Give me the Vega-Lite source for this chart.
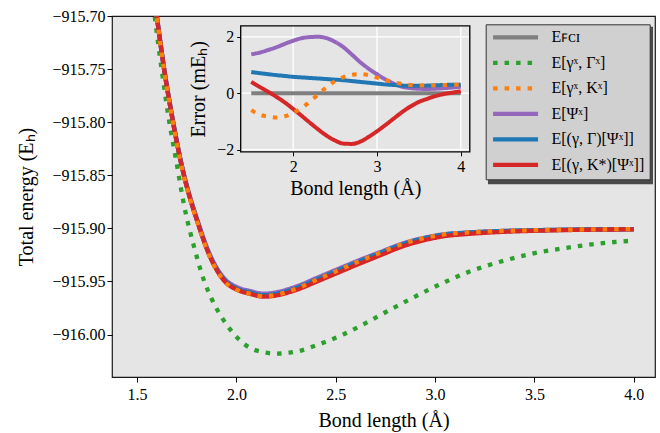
{
  "$schema": "https://vega.github.io/schema/vega-lite/v6.json",
  "width": 543,
  "height": 361,
  "autosize": {"type": "none"},
  "padding": {"left": 112, "top": 16, "right": 5, "bottom": 56},
  "background": "white",
  "config": {
    "view": {"fill": "#e5e5e5", "stroke": "#1a1a1a", "strokeWidth": 1.2},
    "font": "Liberation Serif",
    "style": {"guide-label": {"font": "Liberation Serif"}, "guide-title": {"font": "Liberation Serif"}},
    "axis": {"labelFont": "Liberation Serif", "titleFont": "Liberation Serif", "labelFontSize": 16, "titleFontSize": 20, "titleFontWeight": "normal", "labelColor": "black", "titleColor": "black", "tickColor": "black", "tickSize": 5, "domain": false, "gridColor": "white", "gridWidth": 1.3, "gridOpacity": 1},
    "legend": {"labelFont": "Liberation Serif"}
  },
  "datasets": {
    "main": [
      {"s":"FCI","x":1.5,"e":-915.54},{"s":"FCI","x":1.55,"e":-915.625},{"s":"FCI","x":1.599,"e":-915.7},{"s":"FCI","x":1.636,"e":-915.75},{"s":"FCI","x":1.681,"e":-915.8},{"s":"FCI","x":1.718,"e":-915.8355},{"s":"FCI","x":1.815,"e":-915.9},{"s":"FCI","x":1.855,"e":-915.921},{"s":"FCI","x":1.944,"e":-915.95},{"s":"FCI","x":2.0,"e":-915.957},{"s":"FCI","x":2.07,"e":-915.961},{"s":"FCI","x":2.137,"e":-915.9635},{"s":"FCI","x":2.305,"e":-915.9565},{"s":"FCI","x":2.4,"e":-915.949},{"s":"FCI","x":2.5,"e":-915.941},{"s":"FCI","x":2.6,"e":-915.933},{"s":"FCI","x":2.724,"e":-915.9236},{"s":"FCI","x":2.85,"e":-915.9145},{"s":"FCI","x":2.95,"e":-915.9095},{"s":"FCI","x":3.05,"e":-915.906},{"s":"FCI","x":3.15,"e":-915.9045},{"s":"FCI","x":3.3,"e":-915.903},{"s":"FCI","x":3.5,"e":-915.902},{"s":"FCI","x":4.0,"e":-915.901},
      {"s":"GG","x":1.5,"e":-915.55},{"s":"GG","x":1.55,"e":-915.632},{"s":"GG","x":1.589,"e":-915.7},{"s":"GG","x":1.625,"e":-915.752},{"s":"GG","x":1.66,"e":-915.797},{"s":"GG","x":1.695,"e":-915.834},{"s":"GG","x":1.743,"e":-915.884},{"s":"GG","x":1.785,"e":-915.916},{"s":"GG","x":1.835,"e":-915.948},{"s":"GG","x":1.877,"e":-915.967},{"s":"GG","x":1.933,"e":-915.9857},{"s":"GG","x":2.0,"e":-916.0021},{"s":"GG","x":2.095,"e":-916.0147},{"s":"GG","x":2.204,"e":-916.018},{"s":"GG","x":2.313,"e":-916.0156},{"s":"GG","x":2.419,"e":-916.009},{"s":"GG","x":2.523,"e":-916.0012},{"s":"GG","x":2.623,"e":-915.992},{"s":"GG","x":2.724,"e":-915.9817},{"s":"GG","x":2.875,"e":-915.9666},{"s":"GG","x":3.017,"e":-915.9534},{"s":"GG","x":3.177,"e":-915.9405},{"s":"GG","x":3.328,"e":-915.9314},{"s":"GG","x":3.495,"e":-915.9236},{"s":"GG","x":3.663,"e":-915.9183},{"s":"GG","x":3.83,"e":-915.9142},{"s":"GG","x":4.0,"e":-915.9115},
      {"s":"PSI","x":1.5,"e":-915.53862},{"s":"PSI","x":1.55,"e":-915.62359},{"s":"PSI","x":1.599,"e":-915.69856},{"s":"PSI","x":1.636,"e":-915.74853},{"s":"PSI","x":1.681,"e":-915.79849},{"s":"PSI","x":1.718,"e":-915.83395},{"s":"PSI","x":1.815,"e":-915.89836},{"s":"PSI","x":1.855,"e":-915.91931},{"s":"PSI","x":1.944,"e":-915.94819},{"s":"PSI","x":2.0,"e":-915.95514},{"s":"PSI","x":2.07,"e":-915.95907},{"s":"PSI","x":2.137,"e":-915.96153},{"s":"PSI","x":2.305,"e":-915.9545},{"s":"PSI","x":2.4,"e":-915.94706},{"s":"PSI","x":2.5,"e":-915.93918},{"s":"PSI","x":2.6,"e":-915.93138},{"s":"PSI","x":2.724,"e":-915.9223},{"s":"PSI","x":2.85,"e":-915.91352},{"s":"PSI","x":2.95,"e":-915.90873},{"s":"PSI","x":3.05,"e":-915.90542},{"s":"PSI","x":3.15,"e":-915.90409},{"s":"PSI","x":3.3,"e":-915.90277},{"s":"PSI","x":3.5,"e":-915.901845},{"s":"PSI","x":4.0,"e":-915.90077},
      {"s":"GGP","x":1.5,"e":-915.53925},{"s":"GGP","x":1.55,"e":-915.62427},{"s":"GGP","x":1.599,"e":-915.69929},{"s":"GGP","x":1.636,"e":-915.749305},{"s":"GGP","x":1.681,"e":-915.799325},{"s":"GGP","x":1.718,"e":-915.83484},{"s":"GGP","x":1.815,"e":-915.899365},{"s":"GGP","x":1.855,"e":-915.92038},{"s":"GGP","x":1.944,"e":-915.94941},{"s":"GGP","x":2.0,"e":-915.95642},{"s":"GGP","x":2.07,"e":-915.960435},{"s":"GGP","x":2.137,"e":-915.962945},{"s":"GGP","x":2.305,"e":-915.95598},{"s":"GGP","x":2.4,"e":-915.9485},{"s":"GGP","x":2.5,"e":-915.94052},{"s":"GGP","x":2.6,"e":-915.93254},{"s":"GGP","x":2.724,"e":-915.923175},{"s":"GGP","x":2.85,"e":-915.914115},{"s":"GGP","x":2.95,"e":-915.90915},{"s":"GGP","x":3.05,"e":-915.905675},{"s":"GGP","x":3.15,"e":-915.9042},{"s":"GGP","x":3.3,"e":-915.90273},{"s":"GGP","x":3.5,"e":-915.90174},{"s":"GGP","x":4.0,"e":-915.9007},
      {"s":"GKP","x":1.5,"e":-915.53962},{"s":"GKP","x":1.55,"e":-915.6247},{"s":"GKP","x":1.599,"e":-915.69978},{"s":"GKP","x":1.636,"e":-915.74983},{"s":"GKP","x":1.681,"e":-915.79992},{"s":"GKP","x":1.718,"e":-915.83548},{"s":"GKP","x":1.815,"e":-915.90016},{"s":"GKP","x":1.855,"e":-915.92124},{"s":"GKP","x":1.944,"e":-915.95043},{"s":"GKP","x":2.0,"e":-915.95756},{"s":"GKP","x":2.07,"e":-915.96173},{"s":"GKP","x":2.137,"e":-915.96439},{"s":"GKP","x":2.305,"e":-915.9578},{"s":"GKP","x":2.4,"e":-915.95051},{"s":"GKP","x":2.5,"e":-915.94268},{"s":"GKP","x":2.6,"e":-915.93479},{"s":"GKP","x":2.724,"e":-915.92539},{"s":"GKP","x":2.85,"e":-915.91614},{"s":"GKP","x":2.95,"e":-915.91095},{"s":"GKP","x":3.05,"e":-915.90724},{"s":"GKP","x":3.15,"e":-915.90552},{"s":"GKP","x":3.3,"e":-915.90367},{"s":"GKP","x":3.5,"e":-915.90231},{"s":"GKP","x":4.0,"e":-915.90093},
      {"s":"GK","x":1.5,"e":-915.5406},{"s":"GK","x":1.55,"e":-915.62568},{"s":"GK","x":1.599,"e":-915.70076},{"s":"GK","x":1.636,"e":-915.75079},{"s":"GK","x":1.681,"e":-915.80082},{"s":"GK","x":1.718,"e":-915.83634},{"s":"GK","x":1.815,"e":-915.900855},{"s":"GK","x":1.855,"e":-915.92184},{"s":"GK","x":1.944,"e":-915.95077},{"s":"GK","x":2.0,"e":-915.9577},{"s":"GK","x":2.07,"e":-915.96158},{"s":"GK","x":2.137,"e":-915.96394},{"s":"GK","x":2.305,"e":-915.95653},{"s":"GK","x":2.4,"e":-915.94878},{"s":"GK","x":2.5,"e":-915.94057},{"s":"GK","x":2.6,"e":-915.93243},{"s":"GK","x":2.724,"e":-915.92294},{"s":"GK","x":2.85,"e":-915.91383},{"s":"GK","x":2.95,"e":-915.9089},{"s":"GK","x":3.05,"e":-915.9055},{"s":"GK","x":3.15,"e":-915.90408},{"s":"GK","x":3.3,"e":-915.90267},{"s":"GK","x":3.5,"e":-915.90173},{"s":"GK","x":4.0,"e":-915.9007}
    ],
    "inset": [
      {"s":"FCI","x":1.5,"m":0},{"s":"FCI","x":4.0,"m":0},
      {"s":"PSI","x":1.5,"m":1.38},{"s":"PSI","x":1.6,"m":1.44},{"s":"PSI","x":1.7,"m":1.53},{"s":"PSI","x":1.8,"m":1.63},{"s":"PSI","x":1.9,"m":1.75},{"s":"PSI","x":2.0,"m":1.86},{"s":"PSI","x":2.1,"m":1.95},{"s":"PSI","x":2.2,"m":1.99},{"s":"PSI","x":2.3,"m":2.0},{"s":"PSI","x":2.4,"m":1.95},{"s":"PSI","x":2.5,"m":1.82},{"s":"PSI","x":2.6,"m":1.63},{"s":"PSI","x":2.7,"m":1.37},{"s":"PSI","x":2.8,"m":1.1},{"s":"PSI","x":2.9,"m":0.87},{"s":"PSI","x":3.0,"m":0.67},{"s":"PSI","x":3.1,"m":0.49},{"s":"PSI","x":3.2,"m":0.34},{"s":"PSI","x":3.3,"m":0.23},{"s":"PSI","x":3.4,"m":0.18},{"s":"PSI","x":3.5,"m":0.155},{"s":"PSI","x":3.6,"m":0.15},{"s":"PSI","x":3.7,"m":0.16},{"s":"PSI","x":3.8,"m":0.18},{"s":"PSI","x":3.9,"m":0.2},{"s":"PSI","x":4.0,"m":0.23},
      {"s":"GGP","x":1.5,"m":0.75},{"s":"GGP","x":1.6,"m":0.71},{"s":"GGP","x":1.7,"m":0.675},{"s":"GGP","x":1.8,"m":0.64},{"s":"GGP","x":1.9,"m":0.61},{"s":"GGP","x":2.0,"m":0.58},{"s":"GGP","x":2.1,"m":0.56},{"s":"GGP","x":2.2,"m":0.54},{"s":"GGP","x":2.3,"m":0.52},{"s":"GGP","x":2.4,"m":0.5},{"s":"GGP","x":2.5,"m":0.48},{"s":"GGP","x":2.6,"m":0.46},{"s":"GGP","x":2.7,"m":0.43},{"s":"GGP","x":2.8,"m":0.4},{"s":"GGP","x":2.9,"m":0.37},{"s":"GGP","x":3.0,"m":0.34},{"s":"GGP","x":3.1,"m":0.31},{"s":"GGP","x":3.2,"m":0.29},{"s":"GGP","x":3.3,"m":0.27},{"s":"GGP","x":3.4,"m":0.26},{"s":"GGP","x":3.5,"m":0.26},{"s":"GGP","x":3.6,"m":0.27},{"s":"GGP","x":3.7,"m":0.28},{"s":"GGP","x":3.8,"m":0.29},{"s":"GGP","x":3.9,"m":0.3},{"s":"GGP","x":4.0,"m":0.3},
      {"s":"GKP","x":1.5,"m":0.4},{"s":"GKP","x":1.6,"m":0.22},{"s":"GKP","x":1.7,"m":0.05},{"s":"GKP","x":1.8,"m":-0.13},{"s":"GKP","x":1.9,"m":-0.33},{"s":"GKP","x":2.0,"m":-0.56},{"s":"GKP","x":2.1,"m":-0.8},{"s":"GKP","x":2.2,"m":-1.05},{"s":"GKP","x":2.3,"m":-1.29},{"s":"GKP","x":2.4,"m":-1.51},{"s":"GKP","x":2.5,"m":-1.68},{"s":"GKP","x":2.6,"m":-1.79},{"s":"GKP","x":2.7,"m":-1.8},{"s":"GKP","x":2.8,"m":-1.72},{"s":"GKP","x":2.9,"m":-1.55},{"s":"GKP","x":3.0,"m":-1.35},{"s":"GKP","x":3.1,"m":-1.13},{"s":"GKP","x":3.2,"m":-0.9},{"s":"GKP","x":3.3,"m":-0.67},{"s":"GKP","x":3.4,"m":-0.47},{"s":"GKP","x":3.5,"m":-0.31},{"s":"GKP","x":3.6,"m":-0.2},{"s":"GKP","x":3.7,"m":-0.1},{"s":"GKP","x":3.8,"m":-0.03},{"s":"GKP","x":3.9,"m":0.02},{"s":"GKP","x":4.0,"m":0.07},
      {"s":"GK","x":1.5,"m":-0.6},{"s":"GK","x":1.6,"m":-0.76},{"s":"GK","x":1.7,"m":-0.83},{"s":"GK","x":1.8,"m":-0.86},{"s":"GK","x":1.9,"m":-0.82},{"s":"GK","x":2.0,"m":-0.7},{"s":"GK","x":2.1,"m":-0.53},{"s":"GK","x":2.2,"m":-0.3},{"s":"GK","x":2.3,"m":-0.04},{"s":"GK","x":2.4,"m":0.22},{"s":"GK","x":2.5,"m":0.43},{"s":"GK","x":2.6,"m":0.57},{"s":"GK","x":2.7,"m":0.65},{"s":"GK","x":2.8,"m":0.68},{"s":"GK","x":2.9,"m":0.64},{"s":"GK","x":3.0,"m":0.55},{"s":"GK","x":3.1,"m":0.46},{"s":"GK","x":3.2,"m":0.39},{"s":"GK","x":3.3,"m":0.33},{"s":"GK","x":3.4,"m":0.29},{"s":"GK","x":3.5,"m":0.27},{"s":"GK","x":3.6,"m":0.27},{"s":"GK","x":3.7,"m":0.28},{"s":"GK","x":3.8,"m":0.29},{"s":"GK","x":3.9,"m":0.3},{"s":"GK","x":4.0,"m":0.3}
    ]
  },
  "layer": [
    {
      "layer": [
        {
          "data": {"values": [{}]},
          "mark": {"type": "rect", "fill": "#4a4a4a"},
          "encoding": {
            "x": {"datum": 3.2664, "type": "quantitative",
              "axis": {"orient": "bottom", "values": [1.5, 2, 2.5, 3, 3.5, 4], "format": ".1f", "title": "Bond length (Å)", "labelFont": "Liberation Serif", "titleFont": "Liberation Serif", "labelPadding": 4, "titlePadding": 8}},
            "x2": {"datum": 4.0969},
            "y": {"datum": -915.7102, "type": "quantitative",
              "axis": {"orient": "left", "values": [-916, -915.95, -915.9, -915.85, -915.8, -915.75, -915.7], "format": ".2f", "title": "Total energy (Eₕ)", "labelFont": "Liberation Serif", "titleFont": "Liberation Serif", "titlePadding": 15}},
            "y2": {"datum": -915.8584}
          }
        },
        {
          "data": {"name": "main"},
          "mark": {"type": "line", "strokeWidth": 4.3, "interpolate": "monotone", "clip": true, "strokeCap": "butt"},
          "encoding": {
            "x": {"field": "x", "type": "quantitative",
              "scale": {"domain": [1.374, 4.107], "nice": false, "zero": false},
              "axis": {"orient": "bottom", "values": [1.5, 2, 2.5, 3, 3.5, 4], "format": ".1f", "title": "Bond length (Å)", "labelFont": "Liberation Serif", "titleFont": "Liberation Serif", "labelPadding": 4, "titlePadding": 8}},
            "y": {"field": "e", "type": "quantitative",
              "scale": {"domain": [-916.04, -915.7], "nice": false, "zero": false},
              "axis": {"orient": "left", "values": [-916, -915.95, -915.9, -915.85, -915.8, -915.75, -915.7], "format": ".2f", "title": "Total energy (Eₕ)", "labelFont": "Liberation Serif", "titleFont": "Liberation Serif", "titlePadding": 15}},
            "color": {"field": "s", "type": "nominal",
              "scale": {"domain": ["FCI", "GG", "GK", "PSI", "GGP", "GKP"], "range": ["#7f7f7f", "#2ca02c", "#ff7f0e", "#9467bd", "#1f77b4", "#d62728"]},
              "legend": {"title": null, "orient": "none", "legendX": 373.7, "legendY": 8.3, "symbolType": "M-1,0H7", "symbolSize": 126.5, "symbolStrokeWidth": 4.3, "labelFont": "Liberation Serif", "labelFontSize": 16, "labelColor": "black", "labelOffset": 44.75, "padding": 5, "rowPadding": 7.5, "fillColor": "#d0d0d0", "strokeColor": "#333333",
                "labelExpr": "datum.label == 'FCI' ? 'Eꜰᴄɪ' : datum.label == 'GG' ? 'E[γˣ, Γˣ]' : datum.label == 'GK' ? 'E[γˣ, Kˣ]' : datum.label == 'PSI' ? 'E[Ψˣ]' : datum.label == 'GGP' ? 'E[(γ, Γ)[Ψˣ]]' : 'E[(γ, K*)[Ψˣ]]'"}},
            "strokeDash": {"field": "s", "type": "nominal",
              "scale": {"domain": ["FCI", "GG", "GK", "PSI", "GGP", "GKP"], "range": [[1, 0], [4.5, 7], [4.5, 7], [1, 0], [1, 0], [1, 0]]}}
          }
        }
      ]
    },
    {
      "layer": [
        {
          "data": {"values": [{}]},
          "mark": {"type": "rect", "fill": "#e5e5e5"},
          "encoding": {
            "x": {"datum": 1.374, "type": "quantitative",
              "axis": {"orient": "bottom", "offset": -225.2, "values": [2, 3, 4], "format": "d", "title": "Bond length (Å)", "labelFont": "Liberation Serif", "titleFont": "Liberation Serif", "grid": false, "tickSize": 4, "labelPadding": 3, "titlePadding": 4}},
            "x2": {"datum": 4.107},
            "y": {"datum": -2.08, "type": "quantitative",
              "axis": {"orient": "left", "offset": -128.7, "values": [-2, 0, 2], "format": "d", "title": "Error (mEₕ)", "labelFont": "Liberation Serif", "titleFont": "Liberation Serif", "grid": false, "tickSize": 4, "labelPadding": 3, "titlePadding": 8}},
            "y2": {"datum": 2.39}
          }
        },
        {
          "data": {"values": [{"g": 2}, {"g": 3}, {"g": 4}]},
          "mark": {"type": "rule", "color": "white", "strokeWidth": 1.3},
          "encoding": {
            "x": {"field": "g", "type": "quantitative",
              "axis": {"orient": "bottom", "offset": -225.2, "values": [2, 3, 4], "format": "d", "title": "Bond length (Å)", "labelFont": "Liberation Serif", "titleFont": "Liberation Serif", "grid": false, "tickSize": 4, "labelPadding": 3, "titlePadding": 4}},
            "y": {"datum": -2.08, "type": "quantitative",
              "axis": {"orient": "left", "offset": -128.7, "values": [-2, 0, 2], "format": "d", "title": "Error (mEₕ)", "labelFont": "Liberation Serif", "titleFont": "Liberation Serif", "grid": false, "tickSize": 4, "labelPadding": 3, "titlePadding": 8}},
            "y2": {"datum": 2.39}
          }
        },
        {
          "data": {"values": [{"g": -2}, {"g": 0}, {"g": 2}]},
          "mark": {"type": "rule", "color": "white", "strokeWidth": 1.3},
          "encoding": {
            "y": {"field": "g", "type": "quantitative",
              "axis": {"orient": "left", "offset": -128.7, "values": [-2, 0, 2], "format": "d", "title": "Error (mEₕ)", "labelFont": "Liberation Serif", "titleFont": "Liberation Serif", "grid": false, "tickSize": 4, "labelPadding": 3, "titlePadding": 8}},
            "x": {"datum": 1.374, "type": "quantitative",
              "axis": {"orient": "bottom", "offset": -225.2, "values": [2, 3, 4], "format": "d", "title": "Bond length (Å)", "labelFont": "Liberation Serif", "titleFont": "Liberation Serif", "grid": false, "tickSize": 4, "labelPadding": 3, "titlePadding": 4}},
            "x2": {"datum": 4.107}
          }
        },
        {
          "data": {"name": "inset"},
          "mark": {"type": "line", "strokeWidth": 4, "interpolate": "monotone", "strokeCap": "butt"},
          "encoding": {
            "x": {"field": "x", "type": "quantitative",
              "scale": {"domain": [1.374, 4.107], "range": [128.7, 357.8], "nice": false, "zero": false},
              "axis": {"orient": "bottom", "offset": -225.2, "values": [2, 3, 4], "format": "d", "title": "Bond length (Å)", "labelFont": "Liberation Serif", "titleFont": "Liberation Serif", "grid": false, "tickSize": 4, "labelPadding": 3, "titlePadding": 4}},
            "y": {"field": "m", "type": "quantitative",
              "scale": {"domain": [-2.08, 2.39], "range": [135.8, 9.8], "nice": false, "zero": false},
              "axis": {"orient": "left", "offset": -128.7, "values": [-2, 0, 2], "format": "d", "title": "Error (mEₕ)", "labelFont": "Liberation Serif", "titleFont": "Liberation Serif", "grid": false, "tickSize": 4, "labelPadding": 3, "titlePadding": 8}},
            "color": {"field": "s", "type": "nominal"},
            "strokeDash": {"field": "s", "type": "nominal"}
          }
        },
        {
          "data": {"values": [{}]},
          "mark": {"type": "rect", "filled": false, "stroke": "black", "strokeWidth": 1.3},
          "encoding": {
            "x": {"datum": 1.374, "type": "quantitative",
              "axis": {"orient": "bottom", "offset": -225.2, "values": [2, 3, 4], "format": "d", "title": "Bond length (Å)", "labelFont": "Liberation Serif", "titleFont": "Liberation Serif", "grid": false, "tickSize": 4, "labelPadding": 3, "titlePadding": 4}},
            "x2": {"datum": 4.107},
            "y": {"datum": -2.08, "type": "quantitative",
              "axis": {"orient": "left", "offset": -128.7, "values": [-2, 0, 2], "format": "d", "title": "Error (mEₕ)", "labelFont": "Liberation Serif", "titleFont": "Liberation Serif", "grid": false, "tickSize": 4, "labelPadding": 3, "titlePadding": 8}},
            "y2": {"datum": 2.39}
          }
        }
      ]
    }
  ],
  "resolve": {"scale": {"x": "independent", "y": "independent"}, "axis": {"x": "independent", "y": "independent"}}
}
